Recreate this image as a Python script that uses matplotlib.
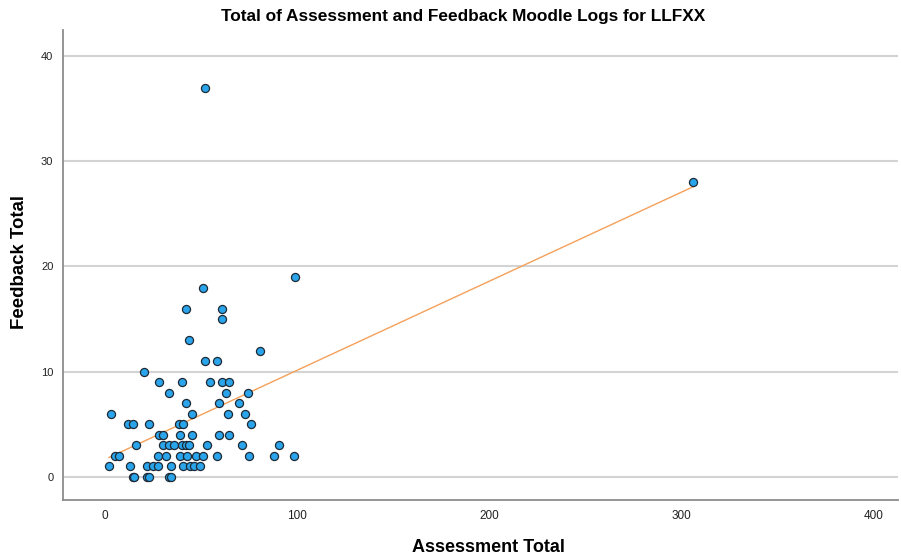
import numpy as np
import matplotlib
matplotlib.use("Agg")
from matplotlib import pyplot as plt

plt.rcParams['font.family'] = ['Liberation Sans', 'DejaVu Sans']

title = 'Total of Assessment and Feedback Moodle Logs for LLFXX'
x_label = 'Assessment Total'
y_label = 'Feedback Total'

# assessment totals (x) and feedback totals (y)
assessment = [
    14.5, 15, 22, 23, 33, 34,
    2, 13, 22, 25, 27.5, 34, 40.5, 44, 46, 49.5,
    5, 7, 27.5, 31.5, 39, 42.5, 47, 51, 58, 75, 88, 98,
    16, 30, 33, 36, 40, 42, 43.5, 53, 71, 90.5,
    28, 30, 39, 45, 59, 64.5,
    12, 14.5, 23, 38.5, 40.5, 76,
    3, 45, 64, 73,
    42, 59, 69.5,
    33, 63, 74.5,
    28, 40, 54.5, 61, 64.5,
    20, 52, 58, 80.5, 43.5, 61, 42, 61, 51, 98.5, 306, 52,
]
feedback = [
    0, 0, 0, 0, 0, 0,
    1, 1, 1, 1, 1, 1, 1, 1, 1, 1,
    2, 2, 2, 2, 2, 2, 2, 2, 2, 2, 2, 2,
    3, 3, 3, 3, 3, 3, 3, 3, 3, 3,
    4, 4, 4, 4, 4, 4,
    5, 5, 5, 5, 5, 5,
    6, 6, 6, 6,
    7, 7, 7,
    8, 8, 8,
    9, 9, 9, 9, 9,
    10, 11, 11, 12, 13, 15, 16, 16, 18, 19, 28, 37,
]

x_ticks = [0, 100, 200, 300, 400]
y_ticks = [0, 10, 20, 30, 40]

W, H = 901, 558
fig = plt.figure(figsize=(W / 100, H / 100), dpi=100)
ax = fig.add_axes([0.070, 0.104, 0.927, 0.842])

for t in y_ticks:
    ax.axhline(t, color='#d3d3d3', lw=1.5, zorder=0)

# linear fit line over the range of the data
x = np.array(assessment)
y = np.array(feedback)
slope, icpt = np.polyfit(x, y, 1)
xs = np.array([x.min(), x.max()])
ax.plot(xs, slope * xs + icpt, color='#f5a05a', lw=1, zorder=2)

ax.scatter(x, y, s=34, c='#2aa4ea', edgecolors='#1e2a36', linewidths=0.9, zorder=3)

ax.set_xlim(-21.9, 412.6)
ax.set_ylim(-2.18, 42.45)
ax.set_xticks(x_ticks)
ax.set_yticks(y_ticks)
ax.tick_params(length=0, labelsize=8, colors='#222222', pad=7)
for lbl in ax.get_xticklabels():
    lbl.set_family(['Liberation Sans Narrow', 'Liberation Sans'])
    lbl.set_fontsize(8.5)

for side in ['top', 'right']:
    ax.spines[side].set_visible(False)
for side in ['left', 'bottom']:
    ax.spines[side].set_color('#8c8c8c')
    ax.spines[side].set_linewidth(1.3)

# titles placed in figure pixels
fig.text(463 / W, 1 - 16 / H, title, fontsize=12.4, fontweight='bold',
         ha='center', va='center')
fig.text(488 / W, 1 - 547 / H, x_label, fontsize=13, fontweight='bold',
         ha='center', va='center',
         family=['Liberation Sans Narrow', 'Liberation Sans'])
fig.text(20 / W, 1 - 262 / H, y_label, fontsize=13.4, fontweight='bold',
         ha='center', va='center', rotation=90)

fig.savefig('out.png', dpi=100)
